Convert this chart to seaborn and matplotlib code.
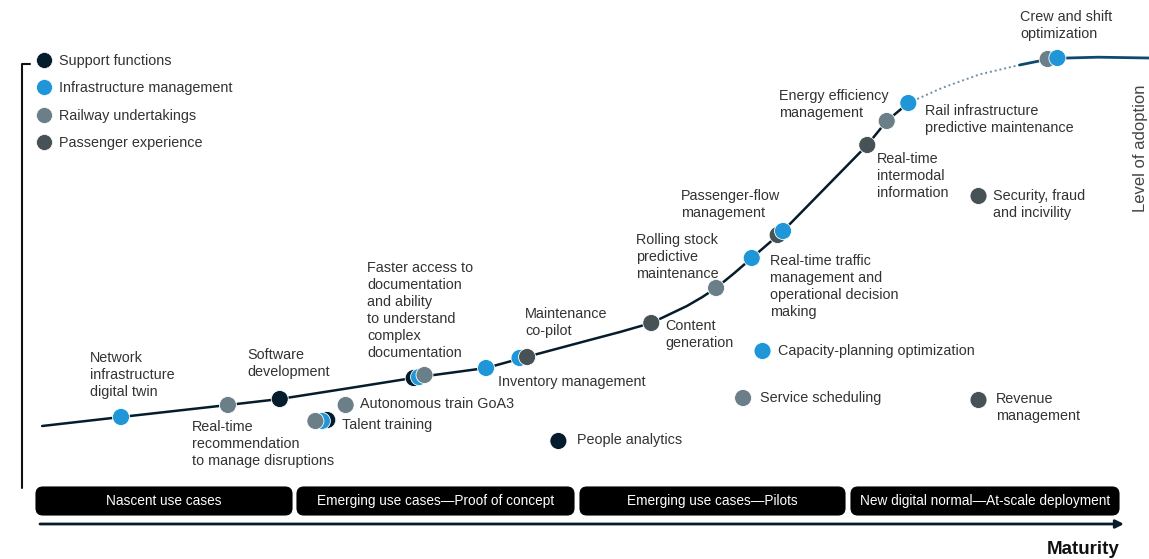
import matplotlib
matplotlib.use("Agg")
import matplotlib.pyplot as plt
from matplotlib import font_manager
from matplotlib.patches import FancyBboxPatch
from matplotlib.lines import Line2D
import seaborn as sns
import pandas as pd

# ---------------- data ----------------
categories = ["Infrastructure management", "Railway undertakings",
              "Passenger experience", "Support functions"]
palette = {"Infrastructure management": "#1F96D8",
           "Railway undertakings": "#6B7F89",
           "Passenger experience": "#475257",
           "Support functions": "#051C2C"}

use_cases = ["Network infrastructure digital twin", "Real-time recommendation",
             "Software development", "Faster access (SF)", "Faster access (IM)",
             "Faster access (RU)", "Inventory management", "Maintenance co-pilot (IM)",
             "Maintenance co-pilot (PE)", "Content generation",
             "Rolling stock predictive maintenance", "Real-time traffic management",
             "Passenger-flow management (PE)", "Passenger-flow management (IM)",
             "Real-time intermodal information", "Rail infrastructure predictive maintenance",
             "Energy efficiency management", "Crew and shift optimization (RU)",
             "Crew and shift optimization (IM)", "Talent training (SF)",
             "Talent training (IM)", "Talent training (RU)", "Autonomous train GoA3",
             "People analytics", "Capacity-planning optimization", "Service scheduling",
             "Revenue management", "Security, fraud and incivility"]
use_case_category = ["Infrastructure management", "Railway undertakings",
                     "Support functions", "Support functions", "Infrastructure management",
                     "Railway undertakings", "Infrastructure management",
                     "Infrastructure management", "Passenger experience",
                     "Passenger experience", "Railway undertakings",
                     "Infrastructure management", "Passenger experience",
                     "Infrastructure management", "Passenger experience",
                     "Railway undertakings", "Infrastructure management",
                     "Railway undertakings", "Infrastructure management",
                     "Support functions", "Infrastructure management",
                     "Railway undertakings", "Railway undertakings", "Support functions",
                     "Infrastructure management", "Railway undertakings",
                     "Passenger experience", "Passenger experience"]
maturity = [7.5, 17.4, 22.2, 34.6, 35.1, 35.6, 41.3, 44.4, 45.1, 56.6, 62.6, 65.9,
            68.3, 68.8, 76.6, 78.4, 80.4, 93.3, 94.2, 26.6, 26.1, 25.5, 28.3, 48.0,
            66.9, 65.1, 86.9, 86.9]
adoption = [10.75, 13.75, 15.25, 20.5, 20.75, 21.25, 23.0, 25.5, 25.75, 34.25, 43.0,
            50.5, 56.25, 57.25, 78.75, 84.75, 89.25, 100.25, 100.5, 10.0, 9.75, 9.75,
            13.75, 4.75, 27.25, 15.5, 15.0, 66.0]

# adoption curve
trend_maturity = [0.2, 7.5, 17.4, 22.2, 28.7, 35.1, 41.3, 44.8, 50.9, 53.7, 56.6,
                  59.9, 61.3, 62.6, 64.3, 65.9, 68.8, 72.7, 76.6, 78.4, 80.4]
trend_adoption = [8.5, 10.75, 13.75, 15.25, 18.0, 20.75, 23.0, 25.6, 30.0, 32.0,
                  34.25, 38.5, 40.7, 43.0, 46.75, 50.5, 57.25, 68.0, 78.75, 84.75, 89.25]
dotted_maturity = [80.4, 83.5, 87.0, 90.7]
dotted_adoption = [89.25, 93.0, 96.4, 98.75]
tail_maturity = [90.7, 93.7, 98.0, 102.7]
tail_adoption = [98.75, 100.4, 100.7, 100.5]

phases = ["Nascent use cases", "Emerging use cases\u2014Proof of concept",
          "Emerging use cases\u2014Pilots", "New digital normal\u2014At-scale deployment"]

# ---------------- fonts ----------------
def has_font(name):
    try:
        font_manager.findfont(name, fallback_to_default=False)
        return True
    except Exception:
        return False

sns.set_theme(style="white")
BASE = "Liberation Sans" if has_font("Liberation Sans") else "DejaVu Sans"
NARROW = "Liberation Sans Narrow" if has_font("Liberation Sans Narrow") else BASE
plt.rcParams["font.family"] = [BASE, "DejaVu Sans"]

W, H = 1149, 559
fig = plt.figure(figsize=(W / 100, H / 100), dpi=100)
ax = fig.add_axes([0, 0, 1, 1])

def X(px):
    return (px - 40) / 10.8

def Y(py):
    return (460 - py) / 4.0

ax.set_xlim(X(0), X(W))
ax.set_ylim(Y(H), Y(0))
ax.axis("off")

df = pd.DataFrame({"use_case": use_cases, "category": use_case_category,
                   "maturity": maturity, "adoption": adoption})
trend = pd.DataFrame({"m": trend_maturity, "a": trend_adoption})
dotted = pd.DataFrame({"m": dotted_maturity, "a": dotted_adoption})
tail = pd.DataFrame({"m": tail_maturity, "a": tail_adoption})

sns.lineplot(data=trend, x="m", y="a", sort=False, estimator=None, ax=ax,
             color="#051C2C", lw=1.8, zorder=2)
sns.lineplot(data=dotted, x="m", y="a", sort=False, estimator=None, ax=ax,
             color="#6F8FA8", lw=1.4, ls=(0, (1, 1.5)), zorder=2)
sns.lineplot(data=tail, x="m", y="a", sort=False, estimator=None, ax=ax,
             color="#0E4A6E", lw=2.0, zorder=2)
for l in ax.lines:
    l.set_clip_on(False)
    l.set_solid_joinstyle("round")

sns.scatterplot(data=df, x="maturity", y="adoption", hue="category", palette=palette,
                s=150, edgecolor="white", linewidth=0.6, legend=False, ax=ax, zorder=3)

# ---------------- labels ----------------
FS = 10.4
TC = "#333333"
labels = [
    ("Network\ninfrastructure\ndigital twin", 90, 359),
    ("Software\ndevelopment", 247, 356),
    ("Real-time\nrecommendation\nto manage disruptions", 192, 428),
    ("Faster access to\ndocumentation\nand ability\nto understand\ncomplex\ndocumentation", 367, 269),
    ("Maintenance\nco-pilot", 525, 315),
    ("Inventory management", 498, 383),
    ("Autonomous train GoA3", 360, 405),
    ("Talent training", 342, 426),
    ("People analytics", 577, 441),
    ("Content\ngeneration", 665, 327),
    ("Rolling stock\npredictive\nmaintenance", 636, 241),
    ("Passenger-flow\nmanagement", 681, 197),
    ("Real-time traffic\nmanagement and\noperational decision\nmaking", 770, 262),
    ("Capacity-planning optimization", 778, 352),
    ("Service scheduling", 760, 399),
    ("Revenue\nmanagement", 996, 400),
    ("Security, fraud\nand incivility", 993, 197),
    ("Real-time\nintermodal\ninformation", 877, 160),
    ("Rail infrastructure\npredictive maintenance", 925, 112),
    ("Energy efficiency\nmanagement", 779, 97),
    ("Crew and shift\noptimization", 1020, 18),
]
for txt, px, py in labels:
    ax.text(X(px), Y(py - 8), txt, fontsize=FS, color=TC, ha="left", va="top",
            linespacing=1.27, zorder=4)

# legend
legend_order = ["Support functions", "Infrastructure management",
                "Railway undertakings", "Passenger experience"]
handles = [Line2D([0], [0], marker="o", ls="", markersize=11.5,
                  markerfacecolor=palette[c], markeredgecolor="white",
                  markeredgewidth=0.5) for c in legend_order]
leg = ax.legend(handles, legend_order,
                loc="upper left", bbox_to_anchor=(37 / W, 1 - 54 / H),
                frameon=False, fontsize=FS, handlelength=0.9, handletextpad=0.6,
                labelspacing=0.92, borderpad=0, borderaxespad=0)
for t in leg.get_texts():
    t.set_color(TC)

# left axis bracket
ax.plot([X(30), X(22), X(22)], [Y(64), Y(64), Y(488)], color="#111111", lw=1.5,
        clip_on=False)

# phase boxes
boxes = [(36, 292), (297, 574), (580, 845), (851, 1119)]
for (x0, x1), name in zip(boxes, phases):
    ax.add_patch(FancyBboxPatch((x0 / W, 1 - 515 / H), (x1 - x0) / W, 28 / H,
                                boxstyle="round,pad=0,rounding_size=0.006",
                                mutation_aspect=W / H, transform=ax.transAxes,
                                facecolor="#000000", edgecolor="#000000", lw=0.8,
                                zorder=2))
    ax.text(((x0 + x1) / 2) / W, 1 - 501 / H, name, transform=ax.transAxes,
            ha="center", va="center", color="white", fontsize=9.8,
            family=[NARROW, "DejaVu Sans"], zorder=3)

# maturity arrow
ax.annotate("", xy=(X(1124), Y(524)), xytext=(X(40), Y(524)),
            arrowprops=dict(arrowstyle="-|>", lw=2, color="#051C2C",
                            mutation_scale=12, shrinkA=0, shrinkB=0))
ax.text(X(1119), Y(549), "Maturity", ha="right", va="center", fontsize=13.5,
        fontweight="bold", color="#111111", family=[NARROW, "DejaVu Sans"])

# level of adoption (vertical)
ax.text(X(1141), Y(148), "Level of adoption", rotation=90, ha="center",
        va="center", fontsize=12, color="#444444")

fig.savefig("out.png", dpi=100)
